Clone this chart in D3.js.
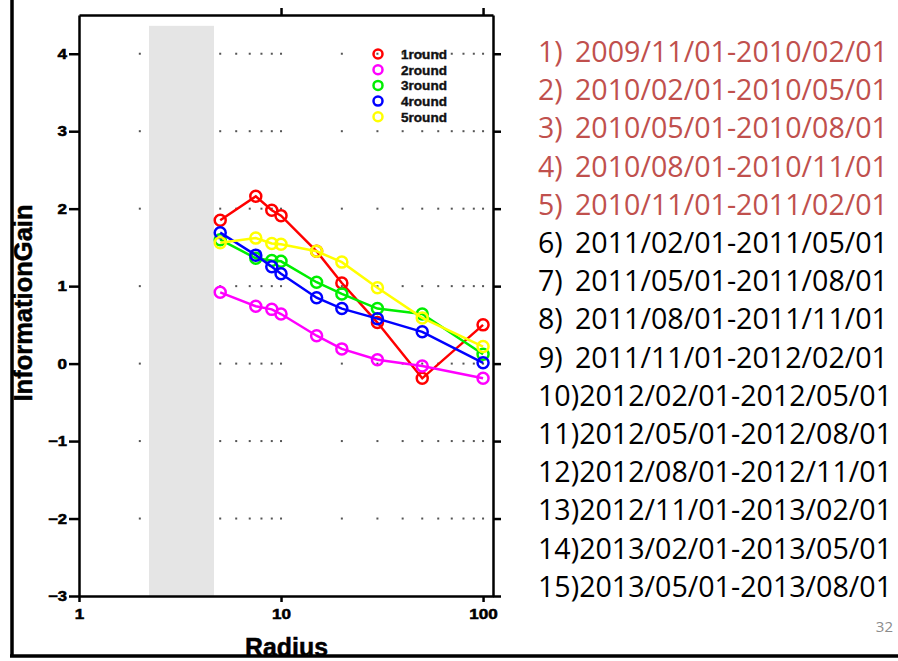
<!DOCTYPE html>
<html>
<head>
<meta charset="utf-8">
<script src="https://cdn.jsdelivr.net/npm/d3@7"></script>
<style>
  html, body { margin: 0; padding: 0; background: #fff; }
  svg { display: block; }
</style>
</head>
<body>
<div id="chart"></div>
<script>
// data
const radius = [5, 7.5, 9, 10, 15, 20, 30, 50, 100];
const round1 = [1.85, 2.16, 1.98, 1.91, 1.45, 1.04, 0.53, -0.19, 0.50];
const round2 = [0.92, 0.74, 0.70, 0.64, 0.36, 0.19, 0.05, -0.03, -0.19];
const round3 = [1.60, 1.36, 1.33, 1.32, 1.05, 0.90, 0.71, 0.64, 0.12];
const round4 = [1.69, 1.40, 1.25, 1.16, 0.85, 0.71, 0.58, 0.41, 0.01];
const round5 = [1.56, 1.62, 1.55, 1.54, 1.45, 1.31, 0.98, 0.59, 0.22];
const seriesNames = ['1round', '2round', '3round', '4round', '5round'];
const seriesColors = ['#ff0000', '#ff00ff', '#00ee00', '#0000ff', '#ffff00'];

const yTicks = [-3, -2, -1, 0, 1, 2, 3, 4];
const xTicks = [1, 10, 100];
const gridX = [2, 3, 4, 5, 6, 7, 8, 9, 10, 20, 30, 40, 50, 60, 70, 80, 90, 100];
const gridY = [-2, -1, 0, 1, 2, 3, 4];
const band = { x0: 2.22, x1: 4.66, top: 4.36 };

const periods = [
  '2009/11/01-2010/02/01', '2010/02/01-2010/05/01', '2010/05/01-2010/08/01',
  '2010/08/01-2010/11/01', '2010/11/01-2011/02/01', '2011/02/01-2011/05/01',
  '2011/05/01-2011/08/01', '2011/08/01-2011/11/01', '2011/11/01-2012/02/01',
  '2012/02/01-2012/05/01', '2012/05/01-2012/08/01', '2012/08/01-2012/11/01',
  '2012/11/01-2013/02/01', '2013/02/01-2013/05/01', '2013/05/01-2013/08/01'
];
const highlighted = 5; // first five periods in red

const W = 898, H = 661;
const svg = d3.select('#chart').append('svg')
  .attr('width', W).attr('height', H);

const x = d3.scaleLog().domain([1, 112]).range([79, 493]);
const y = d3.scaleLinear().domain([-3, 4.5]).range([596, 15]);

// dotted grid: one dot per minor x position on every major y
const dots = [];
gridY.forEach(v => gridX.forEach(u => dots.push([u, v])));
svg.append('g').selectAll('rect')
  .data(dots).enter().append('rect')
  .attr('x', d => x(d[0]) - 1)
  .attr('y', d => y(d[1]) - 1)
  .attr('width', 2).attr('height', 2)
  .attr('fill', '#555');

// gray band
svg.append('rect')
  .attr('x', x(band.x0)).attr('y', y(band.top))
  .attr('width', x(band.x1) - x(band.x0))
  .attr('height', y(-3) - y(band.top))
  .attr('fill', '#e5e5e5');

// axes
const axisFont = 'Liberation Sans, Arial, sans-serif';
function styleAxis(g) {
  g.selectAll('path, line').attr('stroke', '#000').attr('stroke-width', 2.5);
  g.selectAll('text')
    .attr('font-family', axisFont).attr('font-weight', 'bold')
    .attr('font-size', 14).attr('fill', '#000')
    .attr('stroke', '#000').attr('stroke-width', 0.5)
    .each(function() {
      const t = d3.select(this);
      const n = t.text().length;
      if (n) t.attr('textLength', n * 9.5).attr('lengthAdjust', 'spacingAndGlyphs');
    });
}
svg.append('g').attr('transform', 'translate(79,0)')
  .call(d3.axisLeft(y).tickValues(yTicks).tickSize(10).tickSizeOuter(0).tickPadding(2))
  .call(styleAxis);
svg.append('g').attr('transform', 'translate(493,0)')
  .call(d3.axisRight(y).tickValues(yTicks).tickSize(8).tickSizeOuter(0).tickFormat(''))
  .call(styleAxis);
svg.append('g').attr('transform', 'translate(0,596)')
  .call(d3.axisBottom(x).tickValues(xTicks).tickSize(6).tickSizeOuter(0)
    .tickPadding(7).tickFormat(d3.format('d')))
  .call(styleAxis);
svg.append('g').attr('transform', 'translate(0,15)')
  .call(d3.axisTop(x).tickValues([10, 100]).tickSize(7).tickSizeOuter(0).tickFormat(''))
  .call(styleAxis);

// series
const allSeries = [round1, round2, round3, round4, round5];
const line = d3.line().x(d => x(d[0])).y(d => y(d[1]));
allSeries.forEach((vals, i) => {
  const pts = radius.map((r, j) => [r, vals[j]]);
  const g = svg.append('g');
  g.append('path')
    .attr('d', line(pts))
    .attr('fill', 'none')
    .attr('stroke', seriesColors[i])
    .attr('stroke-width', 2.5);
  g.selectAll('circle')
    .data(pts).enter().append('circle')
    .attr('cx', d => x(d[0])).attr('cy', d => y(d[1]))
    .attr('r', 5.5)
    .attr('fill', 'none')
    .attr('stroke', seriesColors[i])
    .attr('stroke-width', 2.5);
});

// legend
const legend = svg.append('g');
seriesNames.forEach((name, i) => {
  const ly = 54 + i * 15.7;
  legend.append('circle')
    .attr('cx', 378).attr('cy', ly).attr('r', 4.5)
    .attr('fill', 'none').attr('stroke', seriesColors[i]).attr('stroke-width', 2.5);
  legend.append('text')
    .attr('x', 401).attr('y', ly + 5)
    .attr('font-family', axisFont).attr('font-weight', 'bold')
    .attr('font-size', 13.5).attr('fill', '#111')
    .attr('stroke', '#111').attr('stroke-width', 0.4)
    .attr('textLength', 46).attr('lengthAdjust', 'spacingAndGlyphs')
    .text(name);
});

// axis titles
svg.append('text')
  .attr('transform', 'translate(32,303) rotate(-90)')
  .attr('text-anchor', 'middle')
  .attr('font-family', axisFont).attr('font-weight', 'bold').attr('font-size', 26)
  .attr('stroke', '#000').attr('stroke-width', 0.5)
  .attr('textLength', 197).attr('lengthAdjust', 'spacingAndGlyphs')
  .text('InformationGain');
svg.append('text')
  .attr('x', 245).attr('y', 656)
  .attr('font-family', axisFont).attr('font-weight', 'bold').attr('font-size', 26)
  .attr('stroke', '#000').attr('stroke-width', 0.5)
  .attr('textLength', 83).attr('lengthAdjust', 'spacingAndGlyphs')
  .text('Radius');

// slide frame
svg.append('line').attr('x1', 12).attr('y1', 0).attr('x2', 12).attr('y2', 657)
  .attr('stroke', '#000').attr('stroke-width', 3.5);
svg.append('line').attr('x1', 10).attr('y1', 656).attr('x2', W).attr('y2', 656)
  .attr('stroke', '#000').attr('stroke-width', 3.5);

// period list on the right
const listFont = 'Open Sans, Noto Sans, sans-serif';
const listSize = 28.5;
const list = svg.append('g');
periods.forEach((p, i) => {
  const by = 62 + i * 38.2;
  const col = i < highlighted ? '#c0504d' : '#000';
  const num = (i + 1) + ')';
  if (i < 9) {
    list.append('text').attr('x', 538).attr('y', by)
      .attr('font-family', listFont).attr('font-size', listSize).attr('fill', col)
      .text(num);
    list.append('text').attr('x', 575).attr('y', by)
      .attr('font-family', listFont).attr('font-size', listSize).attr('fill', col)
      .attr('textLength', 313).attr('lengthAdjust', 'spacingAndGlyphs')
      .text(p);
  } else {
    list.append('text').attr('x', 538).attr('y', by)
      .attr('font-family', listFont).attr('font-size', listSize).attr('fill', col)
      .attr('textLength', 354).attr('lengthAdjust', 'spacingAndGlyphs')
      .text(num + p);
  }
});

// page number
svg.append('text')
  .attr('x', 893).attr('y', 632)
  .attr('text-anchor', 'end')
  .attr('font-family', listFont).attr('font-size', 15).attr('fill', '#8c8c8c')
  .text('32');
</script>
</body>
</html>
